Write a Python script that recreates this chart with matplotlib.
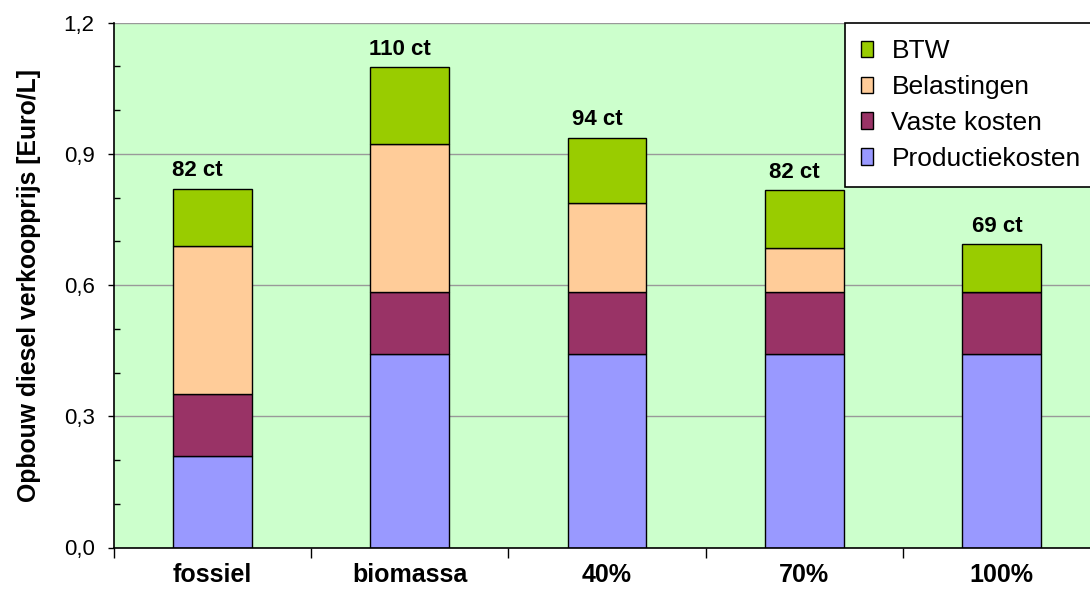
import matplotlib
matplotlib.use("Agg")
import matplotlib.pyplot as plt
from matplotlib.ticker import MultipleLocator, FixedLocator, FuncFormatter
import numpy as np

plt.rcParams['font.family'] = ['Liberation Sans', 'DejaVu Sans']

# Price build-up of diesel per scenario (Euro per litre)
categories = ["fossiel", "biomassa", "40%", "70%", "100%"]
productiekosten = [0.21, 0.442, 0.442, 0.442, 0.442]
vaste_kosten = [0.14, 0.141, 0.141, 0.141, 0.141]
belastingen = [0.34, 0.339, 0.204, 0.102, 0.0]
btw = [0.13, 0.176, 0.15, 0.132, 0.11]
total_labels = ["82 ct", "110 ct", "94 ct", "82 ct", "69 ct"]

series = [
    ("Productiekosten", productiekosten, "#9999FF"),
    ("Vaste kosten", vaste_kosten, "#993366"),
    ("Belastingen", belastingen, "#FFCC99"),
    ("BTW", btw, "#99CC00"),
]

fig = plt.figure(figsize=(10.9, 5.95), dpi=100)
ax = fig.add_axes([114 / 1090, 1 - 547.5 / 595, 986 / 1090, 525 / 595])
ax.set_facecolor("#CCFFCC")

x = np.arange(len(categories)) + 0.5
bottom = np.zeros(len(categories))
handles = []
for name, vals, color in series:
    vals = np.array(vals)
    h = ax.bar(x, vals, width=0.4, bottom=bottom, color=color,
               edgecolor="black", linewidth=1.0, label=name, zorder=3)
    handles.append(h)
    bottom = bottom + vals

# total price above each stack
label_shift = [-0.08, -0.05, -0.05, -0.05, -0.02]
for xi, dx, top, lab in zip(x, label_shift, bottom, total_labels):
    ax.annotate(lab, (xi + dx, top), xytext=(0, 9), textcoords="offset points",
                ha="center", va="baseline", fontsize=16, fontweight="bold", zorder=4)

ax.set_xlim(0, 5)
ax.set_ylim(0, 1.2)

# y axis: major ticks outward, minor ticks inward
ax.yaxis.set_major_locator(MultipleLocator(0.3))
ax.yaxis.set_minor_locator(MultipleLocator(0.1))
ax.yaxis.set_major_formatter(FuncFormatter(lambda v, p: f"{v:.1f}".replace(".", ",")))
ax.tick_params(axis="y", which="major", direction="out", length=4.5, width=1,
               labelsize=16, pad=9.5)
ax.tick_params(axis="y", which="minor", direction="in", length=4, width=1)

# x axis: ticks between categories, labels centered under bars
ax.xaxis.set_major_locator(FixedLocator(np.arange(0, 6)))
ax.xaxis.set_minor_locator(FixedLocator(x))
ax.set_xticklabels([""] * 6)
ax.set_xticklabels(categories, minor=True, fontsize=18, fontweight="bold")
ax.tick_params(axis="x", which="major", direction="out", length=7.5, width=1)
ax.tick_params(axis="x", which="minor", length=0, pad=11)

ax.grid(axis="y", which="major", color="#999999", linewidth=1, zorder=0)
ax.set_axisbelow(True)
for s in ["top", "right"]:
    ax.spines[s].set_visible(False)
for s in ["left", "bottom"]:
    ax.spines[s].set_linewidth(1.2)
    ax.spines[s].set_zorder(5)

ax.set_ylabel("Opbouw diesel verkoopprijs [Euro/L]", fontsize=17.8,
              fontweight="bold", labelpad=16)

leg = ax.legend(handles[::-1], [s[0] for s in series][::-1],
                loc="upper left", bbox_to_anchor=(845 / 1090, 1 - 23 / 595),
                bbox_transform=fig.transFigure, borderaxespad=0,
                fontsize=19, frameon=True, fancybox=False, framealpha=1,
                edgecolor="black", facecolor="white",
                handlelength=0.44, handleheight=0.6, handletextpad=0.7,
                labelspacing=0.45, borderpad=0.62)
leg.get_frame().set_linewidth(1.2)
leg.set_zorder(6)

fig.savefig("out.png", dpi=100)
